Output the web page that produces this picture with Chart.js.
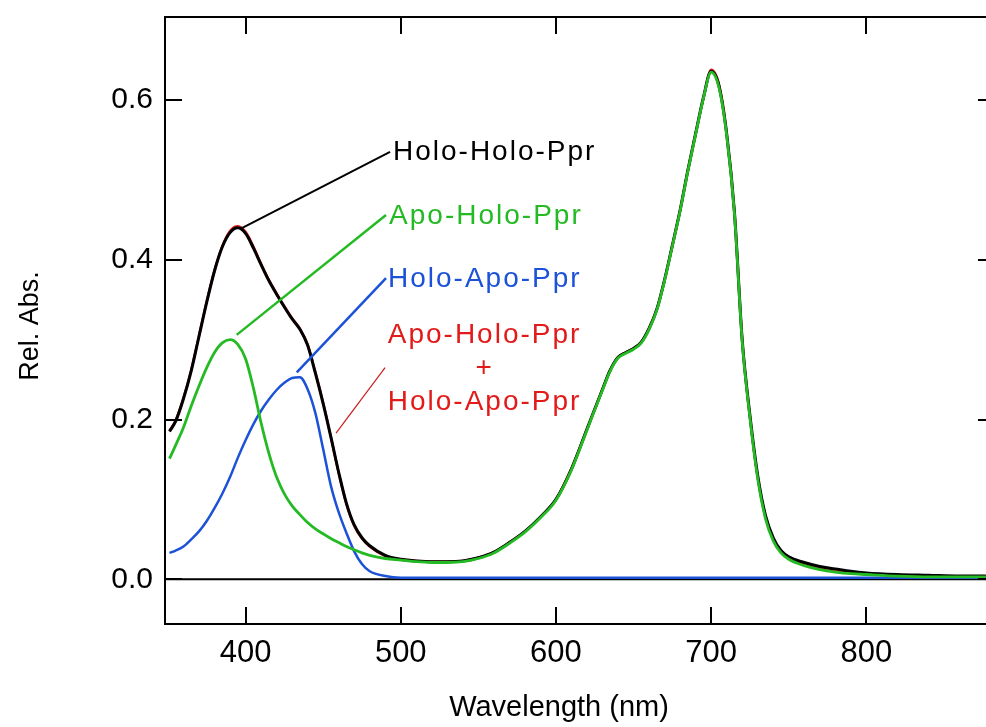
<!DOCTYPE html>
<html lang="en">
<head>
  <meta charset="UTF-8" />
  <title>Rel. Abs. spectra of Ppr</title>
  <script src="https://cdn.jsdelivr.net/npm/chart.js"></script>
  <style>
    html, body { margin: 0; padding: 0; background: #fff; }
    #wrap { width: 986px; height: 727px; }
  </style>
</head>
<body>
  <div id="wrap"><canvas id="spec" width="986" height="727"></canvas></div>

  <script>
    // ==== DATA ====
    const wavelengths = [
      351, 355, 360, 365, 370, 375, 380, 385, 390, 395,
      400, 405, 410, 415, 420, 425, 430, 435, 440, 445,
      450, 455, 460, 465, 470, 475, 480, 490, 500, 510,
      520, 530, 540, 550, 560, 570, 580, 590, 600, 610,
      620, 630, 635, 640, 645, 650, 655, 660, 665, 670,
      675, 680, 685, 690, 695, 700, 705, 710, 715, 720,
      725, 730, 735, 740, 745, 750, 760, 770, 780, 790,
      800, 820, 840, 860, 877
    ];

    const holoHolo = [
      0.185, 0.198, 0.226, 0.261, 0.304, 0.347, 0.386, 0.416, 0.434, 0.440,
      0.433, 0.415, 0.394, 0.374, 0.357, 0.341, 0.326, 0.313, 0.293, 0.258,
      0.220, 0.178, 0.134, 0.095, 0.068, 0.052, 0.042, 0.030, 0.025, 0.023,
      0.022, 0.022, 0.023, 0.027, 0.034, 0.046, 0.060, 0.078, 0.100, 0.138,
      0.188, 0.238, 0.262, 0.278, 0.284, 0.289, 0.297, 0.314, 0.338, 0.375,
      0.418, 0.462, 0.512, 0.558, 0.603, 0.636, 0.618, 0.558, 0.460, 0.300,
      0.205, 0.130, 0.080, 0.052, 0.036, 0.028, 0.021, 0.016, 0.013, 0.010,
      0.008, 0.006, 0.005, 0.004, 0.004
    ];

    const apoHolo = [
      0.151, 0.168, 0.190, 0.217, 0.242, 0.265, 0.284, 0.296, 0.300, 0.294,
      0.276, 0.240, 0.196, 0.158, 0.128, 0.107, 0.092, 0.081, 0.071, 0.063,
      0.057, 0.051, 0.046, 0.041, 0.037, 0.033, 0.030, 0.026, 0.024, 0.022,
      0.021, 0.021, 0.022, 0.026, 0.033, 0.045, 0.059, 0.077, 0.099, 0.137,
      0.187, 0.237, 0.261, 0.277, 0.283, 0.288, 0.296, 0.313, 0.337, 0.374,
      0.417, 0.461, 0.511, 0.557, 0.602, 0.635, 0.616, 0.556, 0.458, 0.298,
      0.202, 0.126, 0.076, 0.048, 0.033, 0.025, 0.017, 0.012, 0.009, 0.007,
      0.006, 0.004, 0.003, 0.003, 0.003
    ];

    const holoApo = [
      0.033, 0.036, 0.041, 0.050, 0.060, 0.073, 0.089, 0.107, 0.128, 0.152,
      0.174, 0.194, 0.211, 0.225, 0.237, 0.246, 0.252, 0.253, 0.238, 0.208,
      0.163, 0.117, 0.084, 0.058, 0.035, 0.019, 0.010, 0.004, 0.002, 0.002,
      0.002, 0.002, 0.002, 0.002, 0.002, 0.002, 0.002, 0.002, 0.002, 0.002,
      0.002, 0.002, 0.002, 0.002, 0.002, 0.002, 0.002, 0.002, 0.002, 0.002,
      0.002, 0.002, 0.002, 0.002, 0.002, 0.002, 0.002, 0.002, 0.002, 0.002,
      0.002, 0.002, 0.002, 0.002, 0.002, 0.002, 0.002, 0.002, 0.002, 0.002,
      0.002, 0.002, 0.002, 0.002, 0.002
    ];

    // Apo-Holo-Ppr + Holo-Apo-Ppr (lies under the black trace)
    const sumSpec = [
      0.186, 0.199, 0.227, 0.262, 0.305, 0.348, 0.387, 0.417, 0.436, 0.442,
      0.435, 0.417, 0.395, 0.375, 0.358, 0.342, 0.327, 0.314, 0.294, 0.259,
      0.221, 0.178, 0.133, 0.094, 0.067, 0.051, 0.041, 0.029, 0.025, 0.023,
      0.022, 0.022, 0.023, 0.027, 0.034, 0.046, 0.060, 0.078, 0.100, 0.139,
      0.188, 0.238, 0.262, 0.278, 0.284, 0.289, 0.297, 0.314, 0.338, 0.375,
      0.418, 0.462, 0.512, 0.558, 0.602, 0.638, 0.620, 0.558, 0.460, 0.300,
      0.204, 0.128, 0.078, 0.050, 0.034, 0.026, 0.019, 0.014, 0.011, 0.008,
      0.007, 0.005, 0.004, 0.004, 0.004
    ];

    const xTicks = [400, 500, 600, 700, 800];
    const yTicks = [0.0, 0.2, 0.4, 0.6];
    const xRange = [348.1, 877.1];
    const yRange = [-0.056, 0.704];

    const FONT = '"Liberation Sans", Arial, sans-serif';
    const GREEN = 'rgb(36,186,36)';
    const BLUE = 'rgb(28,82,216)';
    const RED = 'rgb(226,26,26)';

    // labels with leader lines, in data units
    const notes = [
      { lines: ['Holo-Holo-Ppr'], color: '#000', at: [495.0, 0.534], align: 'left',
        from: [397, 0.439], to: [493.1, 0.535], width: 2 },
      { lines: ['Apo-Holo-Ppr'], color: GREEN, at: [492.5, 0.455], align: 'left',
        from: [394.3, 0.306], to: [490.5, 0.456], width: 2.5 },
      { lines: ['Holo-Apo-Ppr'], color: BLUE, at: [491.8, 0.376], align: 'left',
        from: [433, 0.259], to: [490.5, 0.377], width: 2.5 },
      { lines: ['Apo-Holo-Ppr', '+', 'Holo-Apo-Ppr'], color: RED, at: [554.0, 0.306], align: 'center',
        from: [458.3, 0.183], to: [489.9, 0.265], width: 1.2, lineColor: 'rgb(200,30,30)' }
    ];

    const pts = (vals) => wavelengths.map((w, i) => ({ x: w, y: vals[i] }));

    // ==== FRAME / ANNOTATION PLUGIN ====
    const framePlugin = {
      id: 'frame',
      beforeDatasetsDraw(chart) {
        const { ctx, chartArea: a, scales: { y } } = chart;
        const y0 = y.getPixelForValue(0);
        ctx.save();
        ctx.strokeStyle = '#000';
        ctx.lineWidth = 2;
        ctx.beginPath();
        ctx.moveTo(a.left, y0);
        ctx.lineTo(a.right, y0);
        ctx.stroke();
        ctx.restore();
      },
      afterDatasetsDraw(chart) {
        const { ctx, scales: { x, y } } = chart;
        ctx.save();
        notes.forEach((n) => {
          ctx.strokeStyle = n.lineColor || n.color;
          ctx.lineWidth = n.width;
          ctx.beginPath();
          ctx.moveTo(x.getPixelForValue(n.from[0]), y.getPixelForValue(n.from[1]));
          ctx.lineTo(x.getPixelForValue(n.to[0]), y.getPixelForValue(n.to[1]));
          ctx.stroke();

          ctx.fillStyle = n.color;
          ctx.font = '28px ' + FONT;
          ctx.letterSpacing = '2px';
          ctx.textAlign = n.align;
          ctx.textBaseline = 'middle';
          const px = x.getPixelForValue(n.at[0]);
          const py = y.getPixelForValue(n.at[1]);
          n.lines.forEach((t, i) => ctx.fillText(t, px, py + i * 33.5));
        });
        ctx.restore();
      },
      afterDraw(chart) {
        const { ctx, chartArea: a, scales: { x, y } } = chart;
        const tick = 17;
        ctx.save();
        ctx.strokeStyle = '#000';
        ctx.lineWidth = 2;
        ctx.beginPath();
        // left, top, bottom edges of the frame
        ctx.moveTo(a.right + 5, a.top);
        ctx.lineTo(a.left, a.top);
        ctx.lineTo(a.left, a.bottom);
        ctx.lineTo(a.right + 5, a.bottom);
        // inward ticks
        xTicks.forEach((v) => {
          const px = Math.round(x.getPixelForValue(v));
          ctx.moveTo(px, a.bottom);
          ctx.lineTo(px, a.bottom - tick);
          ctx.moveTo(px, a.top);
          ctx.lineTo(px, a.top + tick);
        });
        yTicks.forEach((v) => {
          const py = Math.round(y.getPixelForValue(v));
          ctx.moveTo(a.left, py);
          ctx.lineTo(a.left + tick, py);
          ctx.moveTo(a.right, py);
          ctx.lineTo(a.right - 8, py);
        });
        ctx.stroke();

        // axis titles
        ctx.fillStyle = '#000';
        ctx.textBaseline = 'middle';
        ctx.textAlign = 'center';
        ctx.font = '29px ' + FONT;
        ctx.fillText('Wavelength (nm)', 559, 708);
        ctx.translate(31, 326);
        ctx.rotate(-Math.PI / 2);
        ctx.font = '27px ' + FONT;
        ctx.fillText('Rel. Abs.', 0, 0);
        ctx.restore();
      }
    };

    // ==== CHART ====
    const line = (label, vals, color, width) => ({
      label,
      data: pts(vals),
      borderColor: color,
      borderWidth: width,
      pointRadius: 0,
      fill: false,
      cubicInterpolationMode: 'monotone'
    });

    new Chart(document.getElementById('spec'), {
      type: 'line',
      data: {
        datasets: [
          line('Apo-Holo-Ppr', apoHolo, GREEN, 2.8),
          line('Holo-Apo-Ppr', holoApo, BLUE, 2.5),
          line('Holo-Holo-Ppr', holoHolo, '#000', 3),
          line('Apo-Holo-Ppr + Holo-Apo-Ppr', sumSpec, RED, 2.4)
        ]
      },
      options: {
        responsive: false,
        animation: false,
        devicePixelRatio: 1,
        layout: { padding: { top: 17, right: 0, left: 0, bottom: 0 } },
        plugins: { legend: { display: false }, tooltip: { enabled: false } },
        scales: {
          x: {
            type: 'linear',
            min: xRange[0],
            max: xRange[1],
            afterBuildTicks: (s) => { s.ticks = xTicks.map((v) => ({ value: v })); },
            afterFit: (s) => { s.height = 103; s.paddingLeft = 0; s.paddingRight = 0; },
            grid: { display: false, drawTicks: false },
            border: { display: false },
            ticks: {
              color: '#000',
              font: { family: FONT, size: 31 },
              padding: 11,
              maxRotation: 0,
              autoSkip: false
            }
          },
          y: {
            type: 'linear',
            min: yRange[0],
            max: yRange[1],
            afterBuildTicks: (s) => { s.ticks = yTicks.map((v) => ({ value: v })); },
            afterFit: (s) => { s.width = 165; s.paddingTop = 0; s.paddingBottom = 0; },
            grid: { display: false, drawTicks: false },
            border: { display: false },
            ticks: {
              color: '#000',
              font: { family: FONT, size: 30 },
              padding: 12,
              callback: (v) => Number(v).toFixed(1)
            }
          }
        }
      },
      plugins: [framePlugin]
    });
  </script>
</body>
</html>
